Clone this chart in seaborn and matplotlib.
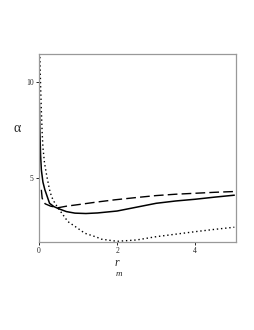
import pandas as pd
import seaborn as sns
import matplotlib.pyplot as plt

# values
r_solid = [0.01, 0.02, 0.04, 0.06, 0.1, 0.15, 0.27, 0.38, 0.49, 0.7, 0.92, 1.2, 1.5, 2.0, 2.5, 3.0, 3.5, 4.0, 4.5, 5.0]
a_solid = [8.88, 7.6, 6.2, 5.43, 4.8, 4.4, 3.7, 3.53, 3.43, 3.27, 3.19, 3.17, 3.2, 3.3, 3.5, 3.7, 3.82, 3.91, 4.02, 4.12]

r_dash = [0.06, 0.08, 0.12, 0.16, 0.3, 0.49, 0.7, 1.0, 1.5, 1.94, 2.5, 3.0, 3.5, 4.0, 4.5, 5.0]
a_dash = [4.4, 3.97, 3.77, 3.67, 3.55, 3.47, 3.55, 3.63, 3.77, 3.88, 4.0, 4.1, 4.17, 4.22, 4.27, 4.31]

r_dot = [0.02, 0.04, 0.06, 0.08, 0.1, 0.14, 0.2, 0.27, 0.32, 0.38, 0.49, 0.74, 0.96, 1.17, 1.47, 1.6, 2.0, 2.5, 3.0, 3.5, 4.0, 4.5, 5.0]
a_dot = [11.5, 9.8, 8.5, 7.4, 6.6, 5.8, 5.1, 4.4, 4.05, 3.8, 3.45, 2.75, 2.45, 2.15, 1.95, 1.84, 1.73, 1.8, 1.97, 2.1, 2.23, 2.35, 2.46]

sns.set_style("white")
plt.rcParams['font.family'] = ['Liberation Serif', 'DejaVu Serif']

fig = plt.figure(figsize=(2.55, 3.30), dpi=100)
ax = fig.add_axes([0.153, 0.267, 0.772, 0.569])

sns.lineplot(x=r_solid, y=a_solid, ax=ax, color='black', linewidth=1.1, sort=False)
sns.lineplot(x=r_dash, y=a_dash, ax=ax, color='black', linewidth=1.0, sort=False)
ax.lines[-1].set_dashes((7, 3))
sns.lineplot(x=r_dot, y=a_dot, ax=ax, color='black', linewidth=1.0, sort=False)
ax.lines[-1].set_dashes((1, 2))

ax.set_xlim(0, 5.04)
ax.set_ylim(1.7, 11.43)
ax.set_xticks([0, 2, 4])
ax.set_yticks([5, 10])
ax.tick_params(axis='both', direction='out', length=2.5, width=0.6, labelsize=5.5, pad=1.5,
               bottom=True, left=True, color='black')
for s in ax.spines.values():
    s.set_color('#999999')
    s.set_linewidth(0.9)
ax.set_xlabel('')
ax.set_ylabel('')

fig.text(17 / 255, 1 - 128 / 330, 'α', fontsize=10, ha='center', va='center')
fig.text(117 / 255, 1 - 263 / 330, 'r', fontsize=8.5, style='italic', ha='center', va='center')
fig.text(119 / 255, 1 - 274 / 330, 'm', fontsize=6.5, style='italic', ha='center', va='center')

fig.savefig('out.png', dpi=100)
